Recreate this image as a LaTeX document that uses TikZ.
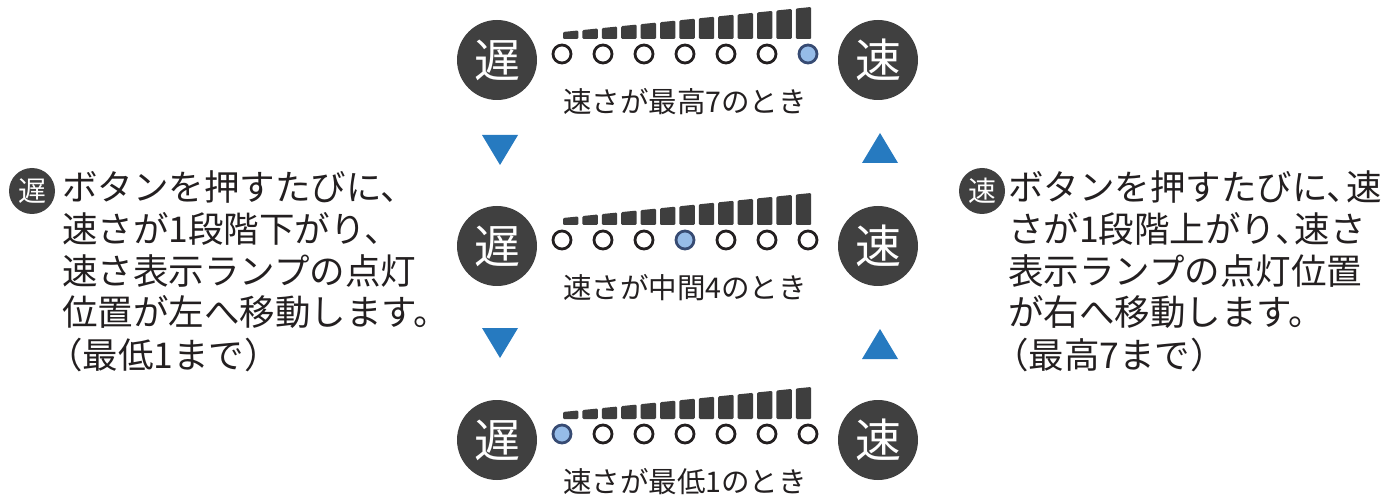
\documentclass[tikz,border=0pt]{standalone}
\usepackage{fontspec}
\setmainfont{Noto Sans CJK JP}
\definecolor{btn}{RGB}{64,64,64}
\definecolor{barc}{RGB}{62,62,62}
\definecolor{ink}{RGB}{35,31,32}
\definecolor{arr}{RGB}{38,122,192}
\definecolor{litfill}{RGB}{150,188,232}
\definecolor{litdraw}{RGB}{55,75,115}
\tikzset{
 bigbtn/.style={circle, fill=btn, text=white, minimum size=80pt, inner sep=0pt, font=\fontsize{46}{46}\selectfont},
 smallbtn/.style={circle, fill=btn, text=white, minimum size=46pt, inner sep=0pt, font=\fontsize{28}{28}\selectfont},
 lamp/.style={circle, draw=ink, line width=2.8pt, fill=white, minimum size=18pt, inner sep=0pt, outer sep=0pt},
 litlamp/.style={lamp, draw=litdraw, fill=litfill},
 caption/.style={text=ink, font=\fontsize{28.5}{30}\selectfont, inner sep=0pt, anchor=base},
 body/.style={text=ink, font=\fontsize{35.5}{41}\selectfont, inner sep=0pt, anchor=base west},
 bar/.style={fill=barc, rounded corners=1.2pt},
 tri/.style={fill=arr}
}
\newcommand\speedrow[4]{%
  \node[bigbtn] (#1slow) at (497,#2) {遅};
  \node[bigbtn] (#1fast) at (878,#2) {速};
  \foreach \i in {0,...,12}{
    \pgfmathsetmacro\xa{563+19.4*\i}
    \pgfmathsetmacro\xb{\xa+15.4}
    \pgfmathsetmacro\ya{#2-28-(\xa-563)*25/248}
    \pgfmathsetmacro\yb{#2-28-(\xb-563)*25/248}
    \pgfmathsetmacro\yc{#2-21}
    \fill[bar] (\xa,\yc) -- (\xa,\ya) -- (\xb,\yb) -- (\xb,\yc) -- cycle;
  }
  \foreach \i in {0,...,6}{
    \pgfmathsetmacro\lx{562+41*\i}
    \ifnum\i=#3\relax
      \node[litlamp] (#1lamp\i) at (\lx,#2-6) {};
    \else
      \node[lamp] (#1lamp\i) at (\lx,#2-6) {};
    \fi
  }
  \node[caption] (#1cap) at (685,#2+52.5) {#4};
}
\begin{document}
\begin{tikzpicture}[x=1pt,y=-1pt]
\useasboundingbox[fill=white] (0,0) rectangle (1385,497);
\speedrow{top}{60}{6}{速さが最高7のとき}
\speedrow{mid}{246}{3}{速さが中間4のとき}
\speedrow{bot}{440}{0}{速さが最低1のとき}
% arrows between states
\fill[tri] (482,135) -- (518,135) -- (500,165) -- cycle;
\fill[tri] (482,328) -- (518,328) -- (500,358) -- cycle;
\fill[tri] (862,163) -- (898,163) -- (880,133) -- cycle;
\fill[tri] (862,359) -- (898,359) -- (880,329) -- cycle;
% left explanation
\node[smallbtn] (lbtn) at (32,191) {遅};
\node[body] (l1) at (62,201) {ボタンを押すたびに、};
\node[body] (l2) at (62,243) {速さが1段階下がり、};
\node[body] (l3) at (62,284) {速さ表示ランプの点灯};
\node[body] (l4) at (62,326) {位置が左へ移動します。};
\node[body] (l5) at (47,368) {（最低1まで）};
% right explanation
\node[smallbtn] (rbtn) at (982,191) {速};
\node[body] (r1) at (1008,201) {ボタンを押すたびに、\kern-0.45em速};
\node[body] (r2) at (1008,243) {さが1段階上がり、\kern-0.45em速さ};
\node[body] (r3) at (1008,284) {表示ランプの点灯位置};
\node[body] (r4) at (1008,326) {が右へ移動します。};
\node[body] (r5) at (993,368) {（最高7まで）};
\end{tikzpicture}
\end{document}
